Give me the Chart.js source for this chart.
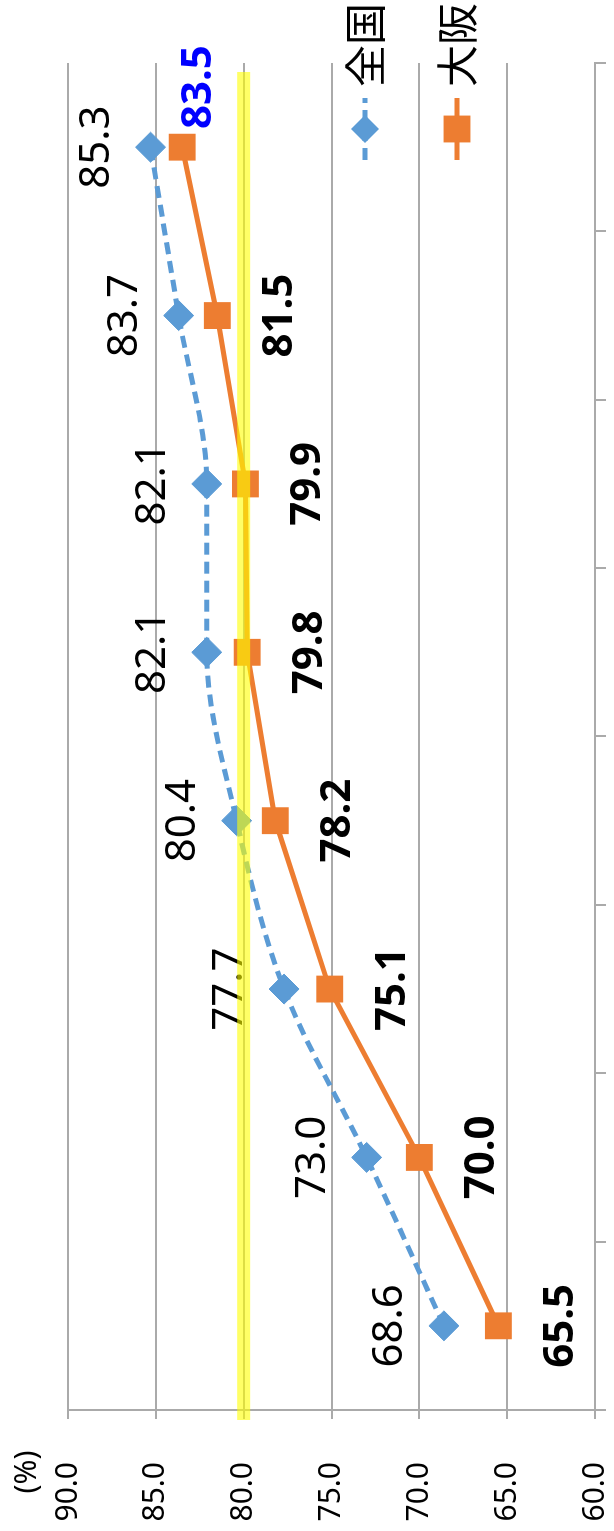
<!DOCTYPE html>
<html>
<head>
<meta charset="utf-8">
<script src="https://cdn.jsdelivr.net/npm/chart.js@4.4.1/dist/chart.umd.min.js"></script>
<style>
html,body{margin:0;padding:0;background:#fff;overflow:hidden;width:614px;height:1531px;}
/* chart is drawn landscape, then turned a quarter left */
#wrap{position:absolute;left:0;top:0;width:1531px;height:614px;transform-origin:0 0;transform:translate(0,1531px) rotate(-90deg);}
</style>
</head>
<body>
<div id="wrap"><canvas id="c" width="1531" height="614"></canvas></div>
<script>
// data
const periods = ['1','2','3','4','5','6','7','8'];
const seriesNames = ['全国','大阪'];
const national = [68.6, 73.0, 77.7, 80.4, 82.1, 82.1, 83.7, 85.3];
const osaka = [65.5, 70.0, 75.1, 78.2, 79.8, 79.9, 81.5, 83.5];
const yMin = 60, yMax = 90, yStep = 5;
const target = 80.0;
const unitLabel = '(%)';

Chart.defaults.font.family = '"Noto Sans"';
const GRID = '#aaaaaa';

// value labels
const valueLabels = {
  id:'valueLabels',
  afterDatasetsDraw(chart){
    const ctx = chart.ctx;
    ctx.save();
    ctx.textAlign = 'center';
    ctx.textBaseline = 'alphabetic';
    chart.data.datasets.forEach((ds,i)=>{
      chart.getDatasetMeta(i).data.forEach((pt,j)=>{
        const txt = ds.data[j].toFixed(1);
        let x = pt.x, y;
        if(i===0){
          ctx.font = '42px "Noto Sans"';
          ctx.fillStyle = '#000';
          y = pt.y - 57;
        } else {
          ctx.font = 'bold 42px "Noto Sans"';
          ctx.fillStyle = '#000';
          y = pt.y + 60;
          if(j===ds.data.length-1){ ctx.fillStyle = '#0000ff'; x = pt.x + 60; y = pt.y + 14; }
        }
        ctx.fillText(txt, x, y + 15);
      });
    });
    ctx.restore();
  }
};

// legend inside plot, unit, target band
const extras = {
  id:'extras',
  afterDraw(chart){
    const ctx = chart.ctx, a = chart.chartArea;
    ctx.save();
    chart.data.datasets.forEach((ds,i)=>{
      const cy = 365 + i*92;
      const x0 = a.right - 97, x1 = a.right - 35;
      ctx.strokeStyle = ds.borderColor;
      ctx.lineWidth = ds.borderWidth;
      ctx.setLineDash(ds.borderDash || []);
      ctx.beginPath(); ctx.moveTo(x0,cy); ctx.lineTo(x1,cy); ctx.stroke();
      ctx.setLineDash([]);
      ctx.fillStyle = ds.pointBackgroundColor;
      Chart.helpers.drawPoint(ctx, {pointStyle:ds.pointStyle, radius:i===0?14:19, borderWidth:0, rotation:0}, (x0+x1)/2, cy);
      ctx.fillStyle = '#000';
      ctx.font = '42px "Noto Sans CJK JP"';
      ctx.textAlign = 'left';
      ctx.textBaseline = 'middle';
      ctx.fillText(ds.label, a.right - 24, cy);
    });
    ctx.font = '30px "Noto Sans"';
    ctx.textAlign = 'center';
    ctx.textBaseline = 'middle';
    ctx.fillText(unitLabel, 59, 27);

    const y = chart.scales.y.getPixelForValue(target);
    ctx.fillStyle = 'rgba(255,255,0,0.6)';
    ctx.fillRect(a.left - 10, y - 6.5, a.right - a.left + 1, 13);
    ctx.restore();
  }
};

new Chart(document.getElementById('c'), {
  type:'line',
  data:{
    labels: periods,
    datasets:[
      {label:seriesNames[0], data:national, borderColor:'#5B9BD5', borderWidth:5, borderDash:[12,7],
       cubicInterpolationMode:'monotone', pointStyle:'rectRot', pointRadius:15,
       pointBackgroundColor:'#5B9BD5', pointBorderColor:'#5B9BD5', pointBorderWidth:1},
      {label:seriesNames[1], data:osaka, borderColor:'#ED7D31', borderWidth:5,
       pointStyle:'rect', pointRadius:19,
       pointBackgroundColor:'#ED7D31', pointBorderColor:'#ED7D31', pointBorderWidth:0}
    ]
  },
  options:{
    responsive:false, animation:false, devicePixelRatio:1,
    layout:{padding:{top:68, right:63, bottom:0, left:0}},
    plugins:{legend:{display:false}, tooltip:{enabled:false}},
    scales:{
      x:{
        offset:true,
        grid:{offset:true, drawOnChartArea:false, tickLength:11, color:GRID, lineWidth:2},
        border:{color:GRID, width:2},
        ticks:{display:false},
        afterFit(s){ s.height = 11; s.paddingLeft = 0; s.paddingRight = 0; }
      },
      y:{
        min:yMin, max:yMax,
        ticks:{stepSize:yStep, padding:43, color:'#000', font:{size:30}, callback:v=>v.toFixed(1)},
        grid:{color:GRID, lineWidth:2, tickLength:9},
        border:{color:GRID, width:2},
        afterFit(s){ s.width = 121; s.paddingTop = 0; s.paddingBottom = 0; }
      }
    }
  },
  plugins:[valueLabels, extras]
});
</script>
</body>
</html>
